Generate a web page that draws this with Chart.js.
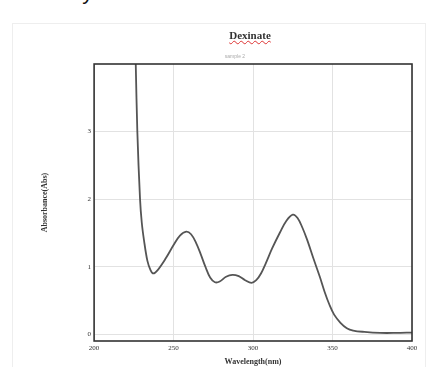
<!DOCTYPE html>
<html>
<head>
<meta charset="utf-8">
<script src="https://cdn.jsdelivr.net/npm/chart.js@4"></script>
<style>
  html, body { margin: 0; padding: 0; background: #fff; }
  #wrap { position: relative; width: 430px; height: 367px; overflow: hidden; }
  #chart { position: absolute; left: 0; top: 0; }
  #cut { position: absolute; left: 4px; top: -21px; font: 22px "Liberation Sans", sans-serif; color: #111; }
  #frame { position: absolute; left: 12px; top: 23px; width: 412px; height: 360px; border: 1px solid #eee; }
  #title { position: absolute; left: 0; width: 500px; top: 29px; text-align: center;
           font: bold 11px "Liberation Serif", serif; color: #333;
           text-decoration: underline wavy #d33; text-decoration-thickness: 1px; }
  #sub { position: absolute; left: 0; width: 470px; top: 53px; text-align: center;
         font: 5px "Liberation Sans", sans-serif; color: #aaa; }
</style>
</head>
<body>
<div id="wrap">
  <div id="cut">the analyte.</div>
  <div id="frame"></div>
  <canvas id="chart" width="430" height="367"></canvas>
  <div id="title">Dexinate</div>
  <div id="sub">sample 2</div>
</div>
<script>
// ==========================
// DATA
// ==========================

const wavelengths = [
    226.2, 227.2, 228.9, 230, 231.4, 233.5, 235.5, 237.3,
    240, 245, 250, 254, 258, 261, 264, 267, 270, 273, 276,
    279, 283, 287, 291, 295, 299, 302, 305, 308, 312, 317,
    321, 325, 328, 331, 334, 338, 342, 345, 348, 351, 355,
    359, 363, 370, 380, 390, 400
];

const absorbance = [
    4.0, 3.0, 2.0, 1.65, 1.39, 1.09, 0.95, 0.90,
    0.95, 1.12, 1.32, 1.46, 1.52, 1.48, 1.36, 1.19, 1.00, 0.84, 0.77,
    0.78, 0.85, 0.88, 0.86, 0.80, 0.76, 0.80, 0.90, 1.05, 1.27, 1.51,
    1.68, 1.77, 1.72, 1.58, 1.40, 1.12, 0.85, 0.63, 0.44, 0.29, 0.17,
    0.09, 0.055, 0.035, 0.02, 0.02, 0.025
];

const xTicks = [200, 250, 300, 350, 400];
const yTicks = [0, 1, 2, 3];

// ==========================
// FRAME PLUGIN
// ==========================

const framePlugin = {
    id: "frame",
    afterDraw(chart) {
        const a = chart.chartArea;
        const ctx = chart.ctx;
        ctx.save();
        ctx.strokeStyle = "#333";
        ctx.lineWidth = 1.6;
        ctx.strokeRect(a.left, a.top, a.right - a.left, a.bottom - a.top);
        ctx.restore();
    }
};

// ==========================
// CHART
// ==========================

const points = wavelengths.map((w, i) => ({ x: w, y: absorbance[i] }));

new Chart(document.getElementById("chart"), {
    type: "line",
    data: {
        datasets: [{
            data: points,
            borderColor: "#555",
            borderWidth: 1.8,
            pointRadius: 0,
            tension: 0.35,
            fill: false
        }]
    },
    options: {
        responsive: false,
        animation: false,
        layout: { padding: { left: 0, right: 18, top: 64, bottom: 0 } },
        plugins: {
            legend: { display: false },
            tooltip: { enabled: false }
        },
        scales: {
            x: {
                type: "linear",
                min: 200,
                max: 400,
                afterBuildTicks: axis => {
                    axis.ticks = xTicks.map(v => ({ value: v }));
                },
                grid: { color: "#e2e2e2", drawTicks: false },
                border: { display: false },
                ticks: {
                    padding: 3,
                    maxRotation: 0,
                    color: "#333",
                    font: { family: "Liberation Serif", size: 7 }
                },
                title: {
                    display: true,
                    text: "Wavelength(nm)",
                    color: "#333",
                    padding: { top: 2, bottom: 0 },
                    font: { family: "Liberation Serif", size: 8, weight: "bold" }
                }
            },
            y: {
                min: -0.1,
                max: 4,
                afterBuildTicks: axis => {
                    axis.ticks = yTicks.map(v => ({ value: v }));
                },
                grid: { color: "#e2e2e2", drawTicks: false },
                border: { display: false },
                ticks: {
                    padding: 3,
                    color: "#333",
                    font: { family: "Liberation Serif", size: 7 }
                },
                title: {
                    display: true,
                    text: "Absorbance(Abs)",
                    color: "#333",
                    padding: { top: 40, bottom: 35 },
                    font: { family: "Liberation Serif", size: 8, weight: "bold" }
                }
            }
        }
    },
    plugins: [framePlugin]
});
</script>
</body>
</html>
